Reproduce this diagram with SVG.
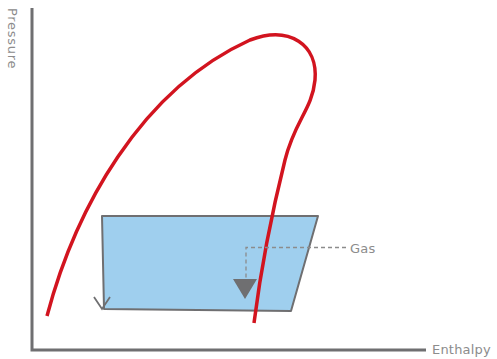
<svg xmlns="http://www.w3.org/2000/svg" width="497" height="359" viewBox="0 0 497 359">
<style>
.axis{stroke:#6f6f71;stroke-width:3;fill:none}
.lbl{font-family:"DejaVu Sans",Verdana,sans-serif;font-size:13px;fill:#8c8c8c;letter-spacing:0.2px}
.curve{stroke:#d2141f;stroke-width:3.5;fill:none;stroke-linecap:butt}
.dash{stroke:#8c8c8c;stroke-width:1.3;stroke-dasharray:4 3;fill:none}
</style>
<rect width="497" height="359" fill="#fff"/>
<g id="region">
<polygon points="102,216 318,216 291,311 104,309" fill="#9fcfee" stroke="#6f6f71" stroke-width="2" stroke-linejoin="round"/>
<polyline points="94,297 102,309 110,297" fill="none" stroke="#6f6f71" stroke-width="1.8"/>
</g>
<g id="curve">
<path class="curve" d="M47,316 C 75,210 140,90 250,40 C 290,25 318,45 315,80 C 312,110 295,120 285,160 C 275,200 262,260 254,323"/>
</g>
<g id="axes">
<polyline class="axis" points="32,8 32,350 426,350"/>
<text class="lbl" style="letter-spacing:0.7px" transform="translate(8,8) rotate(90)">Pressure</text>
<text class="lbl" x="432" y="354">Enthalpy</text>
</g>
<g id="gas">
<polyline class="dash" points="346,247.5 246,247.5 246,279"/>
<polygon points="233,279 257,279 245,299" fill="#6f6f71"/>
<text class="lbl" x="350" y="253">Gas</text>
</g>
</svg>
